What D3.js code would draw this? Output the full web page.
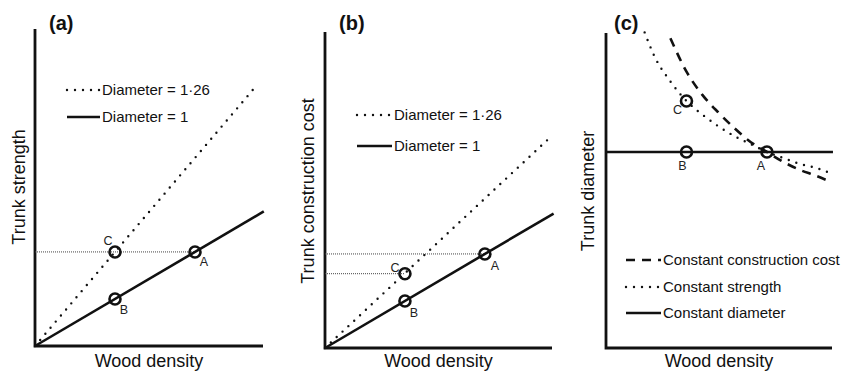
<!DOCTYPE html>
<html>
<head>
<meta charset="utf-8">
<script src="https://cdn.jsdelivr.net/npm/d3@7"></script>
<style>
  body { margin: 0; background: #fff; }
  svg { display: block; font-family: "Liberation Sans", Arial, Helvetica, sans-serif; }
</style>
</head>
<body>
<svg id="chart" width="845" height="372"></svg>
<script>
// values are relative to point A (density = 1, response = 1)

// (a) trunk strength
const strengthDiam1 = [[0, 0], [1.43, 1.43]];
const strengthDiam126 = [[0, 0], [1.39, 2.78]];
const strengthPoints = [
  { name: 'A', x: 1, y: 1 },
  { name: 'B', x: 0.5, y: 0.5 },
  { name: 'C', x: 0.5, y: 1 }
];
const strengthGuides = [{ y: 1, x: 1 }];

// (b) trunk construction cost
const costDiam1 = [[0, 0], [1.43, 1.43]];
const costDiam126 = [[0, 0], [1.39, 2.21]];
const costPoints = [
  { name: 'A', x: 1, y: 1 },
  { name: 'B', x: 0.5, y: 0.5 },
  { name: 'C', x: 0.5, y: 0.79 }
];
const costGuides = [{ y: 1, x: 1 }, { y: 0.79, x: 0.5 }];

// (c) trunk diameter
const densStrength = [0.24, 0.3, 0.4, 0.5, 0.6, 0.7, 0.8, 0.9, 1.0, 1.1, 1.2, 1.3, 1.4];
const diamStrength = [1.61, 1.49, 1.36, 1.26, 1.19, 1.13, 1.08, 1.04, 1.0, 0.97, 0.94, 0.92, 0.89];
const densCost = [0.4, 0.5, 0.6, 0.7, 0.8, 0.9, 1.0, 1.1, 1.2, 1.3, 1.39];
const diamCost = [1.58, 1.41, 1.29, 1.2, 1.12, 1.05, 1.0, 0.95, 0.91, 0.88, 0.85];
const diamConst = [[0, 1], [1.41, 1]];
const diamPoints = [
  { name: 'A', x: 1, y: 1 },
  { name: 'B', x: 0.5, y: 1 },
  { name: 'C', x: 0.5, y: 1.26 }
];

const legendAB = ['Diameter = 1\u00b726', 'Diameter = 1'];
const legendC = ['Constant construction cost', 'Constant strength', 'Constant diameter'];

const svg = d3.select('#chart');
const ink = '#111';

const styles = {
  solid: { width: 2.6, dash: null, cap: 'butt' },
  dotted: { width: 2.4, dash: '0,8', cap: 'round' },
  dashed: { width: 2.6, dash: '9,7', cap: 'butt' }
};

function styled(sel, kind) {
  const s = styles[kind];
  sel.attr('fill', 'none')
    .attr('stroke', ink)
    .attr('stroke-width', s.width)
    .attr('stroke-linecap', s.cap);
  if (s.dash) sel.attr('stroke-dasharray', s.dash);
  return sel;
}

function panel(p) {
  const x = d3.scaleLinear().domain([0, p.xMax]).range([p.left, p.right]);
  const y = d3.scaleLinear().domain([0, p.yMax]).range([p.bottom, p.top]);
  const g = svg.append('g');

  // axes: plain L shape, no ticks
  g.append('path')
    .attr('d', `M${p.left},${p.top}V${p.bottom}H${p.right}`)
    .attr('fill', 'none')
    .attr('stroke', ink)
    .attr('stroke-width', 2.8);

  g.append('text')
    .attr('x', p.titleX).attr('y', 30)
    .attr('font-size', 20).attr('font-weight', 'bold')
    .attr('fill', ink)
    .text(p.title);

  g.append('text')
    .attr('x', (p.left + p.right) / 2).attr('y', 367)
    .attr('text-anchor', 'middle')
    .attr('font-size', 18).attr('fill', ink)
    .text('Wood density');

  g.append('text')
    .attr('transform', `translate(${p.yLabelX},${p.yLabelY}) rotate(-90)`)
    .attr('text-anchor', 'middle')
    .attr('font-size', 18).attr('fill', ink)
    .text(p.yLabel);

  return { g, x, y };
}

function addGuides(c, guides) {
  c.g.selectAll('.guide')
    .data(guides)
    .enter().append('line')
    .attr('x1', c.x(0)).attr('x2', d => c.x(d.x))
    .attr('y1', d => c.y(d.y)).attr('y2', d => c.y(d.y))
    .attr('stroke', '#444')
    .attr('stroke-width', 1)
    .attr('stroke-dasharray', '1,1');
}

function addLine(c, data, kind) {
  const line = d3.line().x(d => c.x(d[0])).y(d => c.y(d[1])).curve(d3.curveMonotoneX);
  styled(c.g.append('path').attr('d', line(data)), kind);
}

function addPoints(c, pts, offsets) {
  c.g.selectAll('.pt')
    .data(pts)
    .enter().append('circle')
    .attr('cx', d => c.x(d.x)).attr('cy', d => c.y(d.y))
    .attr('r', 5.5)
    .attr('fill', 'none')
    .attr('stroke', ink)
    .attr('stroke-width', 2.6);

  c.g.selectAll('.ptlabel')
    .data(pts)
    .enter().append('text')
    .attr('x', d => c.x(d.x) + offsets[d.name][0])
    .attr('y', d => c.y(d.y) + offsets[d.name][1])
    .attr('text-anchor', 'middle')
    .attr('font-size', 12.5).attr('fill', '#222')
    .text(d => d.name);
}

function addLegend(c, items, kinds, x0, x1, ys) {
  items.forEach((label, i) => {
    styled(c.g.append('line')
      .attr('x1', x0).attr('x2', x1)
      .attr('y1', ys[i]).attr('y2', ys[i]), kinds[i]);
    c.g.append('text')
      .attr('x', x1 + 2).attr('y', ys[i])
      .attr('dy', '0.36em')
      .attr('font-size', 15).attr('fill', ink)
      .text(label);
  });
}

// (a)
const a = panel({ left: 35, right: 263, top: 29, bottom: 346, xMax: 1.425, yMax: 3.37,
  title: '(a)', titleX: 49, yLabel: 'Trunk strength', yLabelX: 25, yLabelY: 187 });
addGuides(a, strengthGuides);
addLine(a, strengthDiam126, 'dotted');
addLine(a, strengthDiam1, 'solid');
addPoints(a, strengthPoints, { A: [9, 14], B: [9, 15], C: [-7, -7] });
addLegend(a, legendAB, ['dotted', 'solid'], 67, 100, [90, 117]);

// (b)
const b = panel({ left: 325, right: 552, top: 32, bottom: 348, xMax: 1.42, yMax: 3.36,
  title: '(b)', titleX: 339, yLabel: 'Trunk construction cost', yLabelX: 314, yLabelY: 191 });
addGuides(b, costGuides);
addLine(b, costDiam126, 'dotted');
addLine(b, costDiam1, 'solid');
addPoints(b, costPoints, { A: [10, 16], B: [9, 16], C: [-10, -2] });
addLegend(b, legendAB, ['dotted', 'solid'], 357, 392, [115, 146]);

// (c)
const c = panel({ left: 606, right: 832, top: 33, bottom: 348, xMax: 1.404, yMax: 1.607,
  title: '(c)', titleX: 614, yLabel: 'Trunk diameter', yLabelX: 594, yLabelY: 191 });
addLine(c, densStrength.map((d, i) => [d, diamStrength[i]]), 'dotted');
addLine(c, densCost.map((d, i) => [d, diamCost[i]]), 'dashed');
addLine(c, diamConst, 'solid');
addPoints(c, diamPoints, { A: [-6, 18], B: [-4, 18], C: [-9, 13] });
addLegend(c, legendC, ['dashed', 'dotted', 'solid'], 626, 661, [260, 287, 313]);
</script>
</body>
</html>
